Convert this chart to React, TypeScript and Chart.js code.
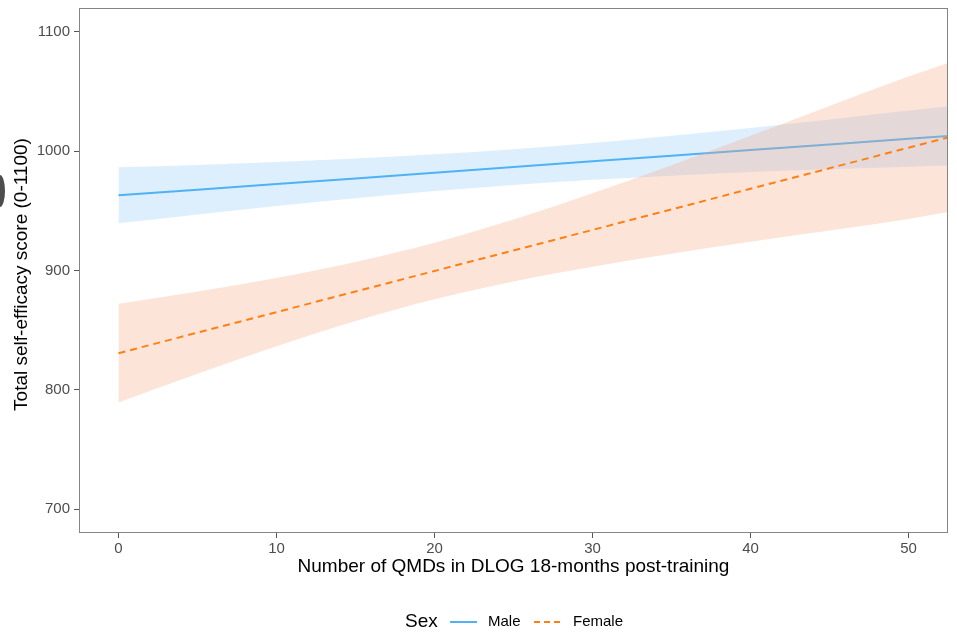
import { useEffect, useRef } from "react";
import { Chart, registerables } from "chart.js";

Chart.register(...registerables);

// Number of QMDs logged in DLOG (x) at which the fitted curves are evaluated
const qmdGrid = [0, 5, 10, 15, 20, 25, 30, 35, 40, 45, 50, 52.5];

// Male: fitted self-efficacy and 95% confidence band
const maleFit = [963.0, 967.7, 972.5, 977.2, 982.0, 986.7, 991.5, 996.2, 1001.0, 1005.7, 1010.5, 1012.8];
const maleUpper = [986.5, 988.5, 991.0, 993.9, 997.4, 1001.7, 1006.9, 1012.9, 1019.5, 1026.5, 1034.0, 1037.7];
const maleLower = [939.5, 946.9, 954.0, 960.5, 966.6, 971.7, 976.1, 979.5, 982.5, 984.9, 987.0, 987.9];

// Female: fitted self-efficacy and 95% confidence band
const femaleFit = [830.7, 847.9, 865.1, 882.4, 899.6, 916.8, 934.0, 951.2, 968.5, 985.7, 1002.9, 1011.5];
const femaleUpper = [872.1, 882.4, 893.7, 907.1, 923.3, 942.8, 964.8, 988.3, 1012.9, 1037.9, 1062.5, 1074.0];
const femaleLower = [789.3, 813.4, 836.5, 857.7, 875.9, 890.8, 903.2, 914.1, 924.1, 933.5, 943.1, 949.0];

const xTicks = [0, 10, 20, 30, 40, 50];
const yTicks = [700, 800, 900, 1000, 1100];

const xTitle = "Number of QMDs in DLOG 18-months post-training";
const yTitle = "Total self-efficacy score (0-1100)";
const legendTitle = "Sex";
const seriesNames = ["Male", "Female"];

const MALE_COLOR = "#4FB2F5";
const MALE_FILL = "rgba(86, 177, 247, 0.2)";
const FEMALE_COLOR = "#FF8012";
const FEMALE_FILL = "rgba(244, 165, 130, 0.3)";
const FONT = '"Liberation Sans", Arial, Helvetica, sans-serif';
const FEMALE_DASH = [7, 5];

const pts = (ys: number[]) => qmdGrid.map((x, i) => ({ x, y: ys[i] }));

const decorPlugin = {
  id: "decor",
  afterDatasetsDraw(chart: any) {
    const { ctx, chartArea: a } = chart;
    ctx.save();
    ctx.strokeStyle = "#858585";
    ctx.lineWidth = 1;
    ctx.strokeRect(Math.round(a.left) + 0.5, Math.round(a.top) + 0.5, Math.round(a.right - a.left) - 1, Math.round(a.bottom - a.top) - 1);
    ctx.restore();
  },
  afterDraw(chart: any) {
    const { ctx, chartArea: a } = chart;
    ctx.save();
    ctx.fillStyle = "#000";
    ctx.textBaseline = "middle";

    // axis titles
    ctx.font = `19px ${FONT}`;
    ctx.textAlign = "center";
    ctx.fillText(xTitle, (a.left + a.right) / 2, 567);
    ctx.save();
    ctx.translate(22, (a.top + a.bottom) / 2 + 4);
    ctx.rotate(-Math.PI / 2);
    ctx.fillText(yTitle, 0, 0);
    ctx.restore();

    // legend
    const ly = 622;
    ctx.textAlign = "left";
    ctx.font = `19px ${FONT}`;
    ctx.fillText(legendTitle, 405, ly);
    ctx.font = `15px ${FONT}`;
    ctx.lineWidth = 2;
    ctx.strokeStyle = MALE_COLOR;
    ctx.beginPath();
    ctx.moveTo(450, ly);
    ctx.lineTo(477, ly);
    ctx.stroke();
    ctx.fillText(seriesNames[0], 488, ly);
    ctx.strokeStyle = FEMALE_COLOR;
    ctx.setLineDash([6, 4]);
    ctx.beginPath();
    ctx.moveTo(534, ly);
    ctx.lineTo(561, ly);
    ctx.stroke();
    ctx.setLineDash([]);
    ctx.fillText(seriesNames[1], 573, ly);

    // dark tab at the left edge
    ctx.fillStyle = "#4d4d4d";
    ctx.beginPath();
    ctx.ellipse(0, 191, 5, 16, 0, -Math.PI / 2, Math.PI / 2);
    ctx.fill();
    ctx.restore();
  },
};

export default function App() {
  const canvasRef = useRef<HTMLCanvasElement | null>(null);

  useEffect(() => {
    const canvas = canvasRef.current;
    if (!canvas) return;
    const band = {
      borderWidth: 0,
      pointRadius: 0,
      cubicInterpolationMode: "monotone" as const,
    };
    const chart = new Chart(canvas, {
      type: "line",
      data: {
        datasets: [
          { label: "Male upper", data: pts(maleUpper), ...band, backgroundColor: MALE_FILL, fill: 1, order: 6 },
          { label: "Male lower", data: pts(maleLower), ...band, fill: false, order: 5 },
          { label: seriesNames[0], data: pts(maleFit), borderColor: MALE_COLOR, borderWidth: 2, pointRadius: 0, fill: false, order: 4 },
          { label: "Female upper", data: pts(femaleUpper), ...band, backgroundColor: FEMALE_FILL, fill: 4, order: 3 },
          { label: "Female lower", data: pts(femaleLower), ...band, fill: false, order: 2 },
          { label: seriesNames[1], data: pts(femaleFit), borderColor: FEMALE_COLOR, borderWidth: 2, borderDash: FEMALE_DASH, pointRadius: 0, fill: false, order: 1 },
        ],
      },
      options: {
        animation: false,
        responsive: false,
        maintainAspectRatio: false,
        layout: { padding: { top: 8, right: 9, left: 0, bottom: 0 } },
        plugins: { legend: { display: false }, tooltip: { enabled: false }, title: { display: false } },
        scales: {
          x: {
            type: "linear",
            min: -2.5,
            max: 52.5,
            afterBuildTicks: (s: any) => {
              s.ticks = xTicks.map((v) => ({ value: v }));
            },
            afterFit: (s: any) => {
              s.height = 100;
              s.paddingLeft = 0;
              s.paddingRight = 0;
            },
            grid: { drawOnChartArea: false, drawTicks: true, tickLength: 5, color: "#555", lineWidth: 1 },
            border: { display: false },
            ticks: {
              color: "#4d4d4d",
              font: { family: FONT, size: 15, lineHeight: 1 },
              padding: 3,
              maxRotation: 0,
              callback: (v: any) => String(v),
            },
          },
          y: {
            type: "linear",
            min: 680,
            max: 1120,
            afterBuildTicks: (s: any) => {
              s.ticks = yTicks.map((v) => ({ value: v }));
            },
            afterFit: (s: any) => {
              s.width = 79;
              s.paddingTop = 0;
              s.paddingBottom = 0;
            },
            grid: { drawOnChartArea: false, drawTicks: true, tickLength: 5, color: "#555", lineWidth: 1 },
            border: { display: false },
            ticks: {
              color: "#4d4d4d",
              font: { family: FONT, size: 15, lineHeight: 1 },
              padding: 4,
              callback: (v: any) => String(v),
            },
          },
        },
      },
      plugins: [decorPlugin],
    });
    return () => chart.destroy();
  }, []);

  return (
    <div style={{ position: "absolute", left: 0, top: 0, width: 957, height: 633, background: "#fff" }}>
      <canvas ref={canvasRef} width={957} height={633} style={{ display: "block" }} />
    </div>
  );
}
